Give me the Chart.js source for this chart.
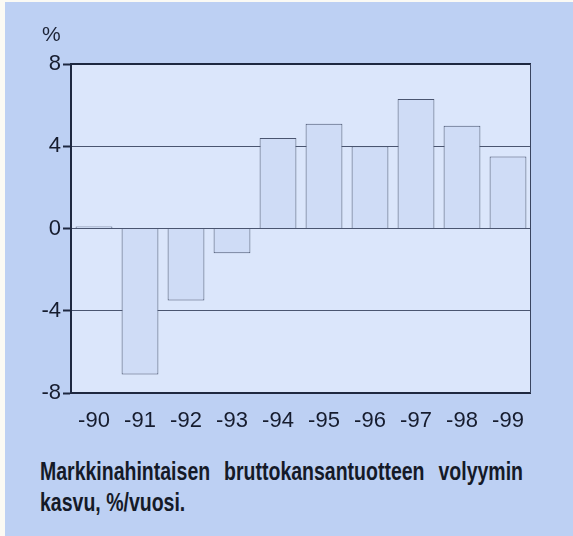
<!DOCTYPE html>
<html>
<head>
<meta charset="utf-8">
<script src="https://cdn.jsdelivr.net/npm/chart.js@4/dist/chart.umd.min.js"></script>
<style>
    html, body { margin: 0; padding: 0; background: #fbfaf4; }
    #panel { position: absolute; left: 5px; top: 2px; width: 568px; height: 534px; background: #bdd0f3; }
    #wrap { position: absolute; left: 0; top: 0; width: 573px; height: 440px; }
    #unit { position: absolute; left: 42px; top: 22px; font: 21px "Liberation Sans", Arial, sans-serif; color: #1c2336; }
    #caption { position: absolute; left: 40px; top: 456px; width: 644px; transform: scaleX(0.75); transform-origin: 0 0;
        font: bold 26px "Liberation Sans", Arial, sans-serif; line-height: 31px; color: #151a28; white-space: nowrap; }
    #caption .l1 { display: flex; justify-content: space-between; }
</style>
</head>
<body>
<div id="panel"></div>
<div id="wrap"><canvas id="gdpChart"></canvas></div>
<div id="unit">%</div>
<div id="caption"><div class="l1"><span>Markkinahintaisen</span> <span>bruttokansantuotteen</span> <span>volyymin</span></div><div>kasvu, %/vuosi.</div></div>
<script>
// DATA
const years = ['-90', '-91', '-92', '-93', '-94', '-95', '-96', '-97', '-98', '-99'];
const growth = [0.1, -7.1, -3.5, -1.2, 4.4, 5.1, 4.0, 6.3, 5.0, 3.5];
const yTicks = [-8, -4, 0, 4, 8];

// plot background + frame
const frame = {
    id: 'frame',
    beforeDraw(chart) {
        const { ctx, chartArea: a } = chart;
        ctx.save();
        ctx.fillStyle = '#dbe6fb';
        ctx.fillRect(a.left, a.top, a.right - a.left, a.bottom - a.top);
        ctx.restore();
    },
    afterDraw(chart) {
        const { ctx, chartArea: a } = chart;
        ctx.save();
        ctx.strokeStyle = '#1e2840';
        ctx.lineWidth = 2;
        ctx.beginPath();
        ctx.moveTo(a.left, a.top);
        ctx.lineTo(a.right, a.top);
        ctx.moveTo(a.left, a.bottom);
        ctx.lineTo(a.right, a.bottom);
        ctx.stroke();
        ctx.lineWidth = 1;
        ctx.strokeStyle = '#3a4560';
        ctx.beginPath();
        ctx.moveTo(a.right - 0.5, a.top);
        ctx.lineTo(a.right - 0.5, a.bottom);
        ctx.stroke();
        ctx.restore();
    }
};

new Chart(document.getElementById('gdpChart'), {
    type: 'bar',
    data: {
        labels: years,
        datasets: [{
            data: growth,
            backgroundColor: '#cfdcf6',
            borderColor: '#4a5570',
            borderWidth: 1,
            barPercentage: 0.8,
            categoryPercentage: 1
        }]
    },
    options: {
        responsive: true,
        maintainAspectRatio: false,
        animation: false,
        layout: { padding: { left: 0, right: 42, top: 64, bottom: 0 } },
        scales: {
            x: {
                grid: { display: false, drawTicks: false },
                border: { display: false },
                ticks: { color: '#161c2e', padding: 15, font: { size: 22, family: 'Liberation Sans' } },
                afterFit(s) { s.height = 47; }
            },
            y: {
                min: -8,
                max: 8,
                afterBuildTicks(s) { s.ticks = yTicks.map(v => ({ value: v })); },
                grid: { color: '#4a5570', lineWidth: 1, tickLength: 8, tickColor: '#1e2840', tickWidth: 2 },
                border: { display: true, color: '#1e2840', width: 2 },
                ticks: { color: '#161c2e', padding: 2, font: { size: 22, family: 'Liberation Sans' } },
                afterFit(s) { s.width = 71; }
            }
        },
        plugins: {
            legend: { display: false },
            tooltip: { enabled: false }
        }
    },
    plugins: [frame]
});
</script>
</body>
</html>
